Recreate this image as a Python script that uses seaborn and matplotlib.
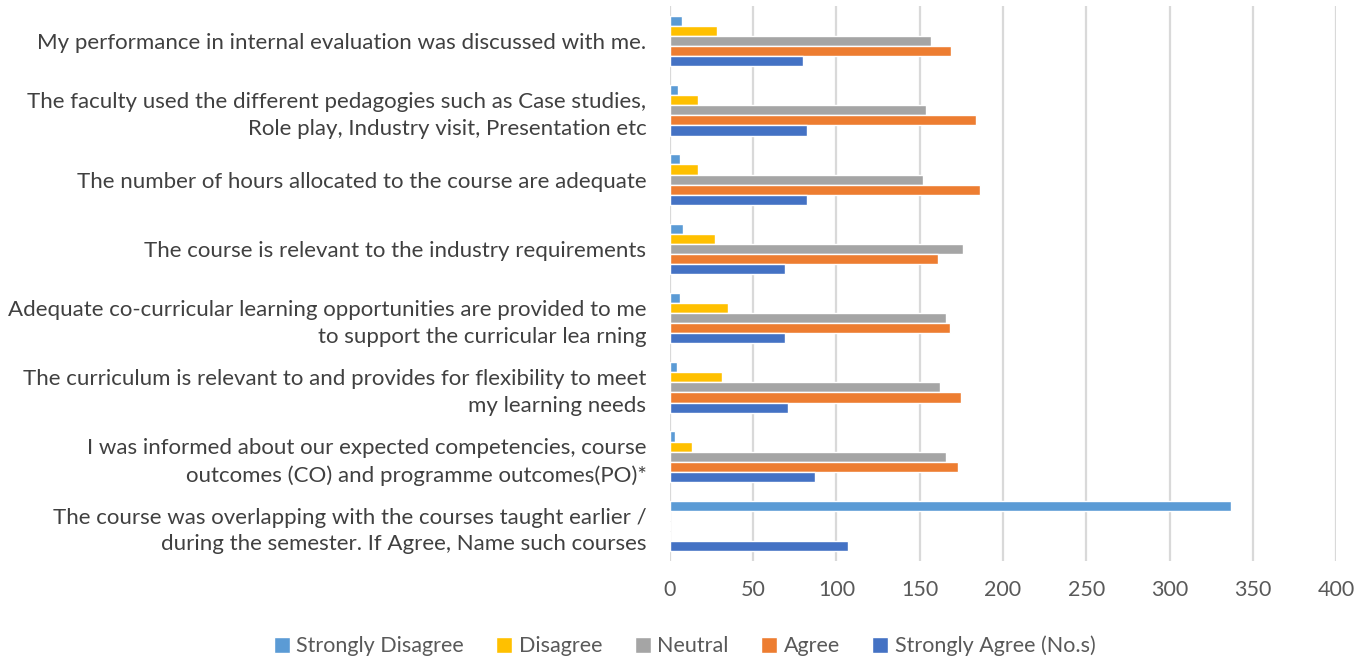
import seaborn as sns
import pandas as pd
import matplotlib.pyplot as plt

# survey statements, top to bottom as shown
questions = [
    "My performance in internal evaluation was discussed with me.",
    "The faculty used the different pedagogies such as Case studies,\nRole play, Industry visit, Presentation etc",
    "The number of hours allocated to the course are adequate",
    "The course is relevant to the industry requirements",
    "Adequate co-curricular learning opportunities are provided to me\nto support the curricular lea rning",
    "The curriculum is relevant to and provides for flexibility to meet\nmy learning needs",
    "I was informed about our expected competencies, course\noutcomes (CO) and programme outcomes(PO)*",
    "The course was overlapping with the courses taught earlier /\nduring the semester. If Agree, Name such courses",
]
responses = ["Strongly Disagree", "Disagree", "Neutral", "Agree", "Strongly Agree (No.s)"]

strongly_disagree = [7, 5, 6, 8, 6, 4, 3, 337]
disagree = [28, 17, 17, 27, 35, 31, 13, 0]
neutral = [157, 154, 152, 176, 166, 162, 166, 0]
agree = [169, 184, 186, 161, 168, 175, 173, 0]
strongly_agree = [80, 82, 82, 69, 69, 71, 87, 107]

colors = ["#5B9BD5", "#FFC000", "#A5A5A5", "#ED7D31", "#4472C4"]

series = [strongly_disagree, disagree, neutral, agree, strongly_agree]
rows = []
for resp, vals in zip(responses, series):
    for q, v in zip(questions, vals):
        rows.append({"Question": q, "Response": resp, "Count": v})
df = pd.DataFrame(rows)

sns.set_style("white")
plt.rcParams["font.family"] = ["Lato", "DejaVu Sans"]

fig = plt.figure(figsize=(13.69, 6.62), dpi=100)
ax = fig.add_axes([0.4894, 0.1531, 0.4865, 0.8373])

sns.barplot(data=df, y="Question", x="Count", hue="Response", order=questions,
            hue_order=responses, palette=colors, orient="h", width=0.73,
            saturation=1, ax=ax, legend=True)

ax.set_xlim(0, 400)
ax.set_xticks(range(0, 401, 50))
ax.xaxis.grid(True, color="#D9D9D9", lw=1.6)
ax.set_axisbelow(True)
for s in ax.spines.values():
    s.set_visible(False)
ax.set_xlabel("")
ax.set_ylabel("")
ax.tick_params(axis="y", length=0, pad=17, labelsize=16, labelcolor="#404040")
ax.tick_params(axis="x", length=0, pad=14, labelsize=15.5, labelcolor="#595959")
for lbl in ax.get_yticklabels():
    lbl.set_linespacing(1.4)

ax.legend(loc="center", bbox_to_anchor=(0.5, 1 - 646 / 662), bbox_transform=fig.transFigure,
          ncol=5, frameon=False, fontsize=15.5, handlelength=0.75, handleheight=0.75,
          columnspacing=1.5, handletextpad=0.3, labelcolor="#595959")

fig.savefig("out.png", dpi=100)
